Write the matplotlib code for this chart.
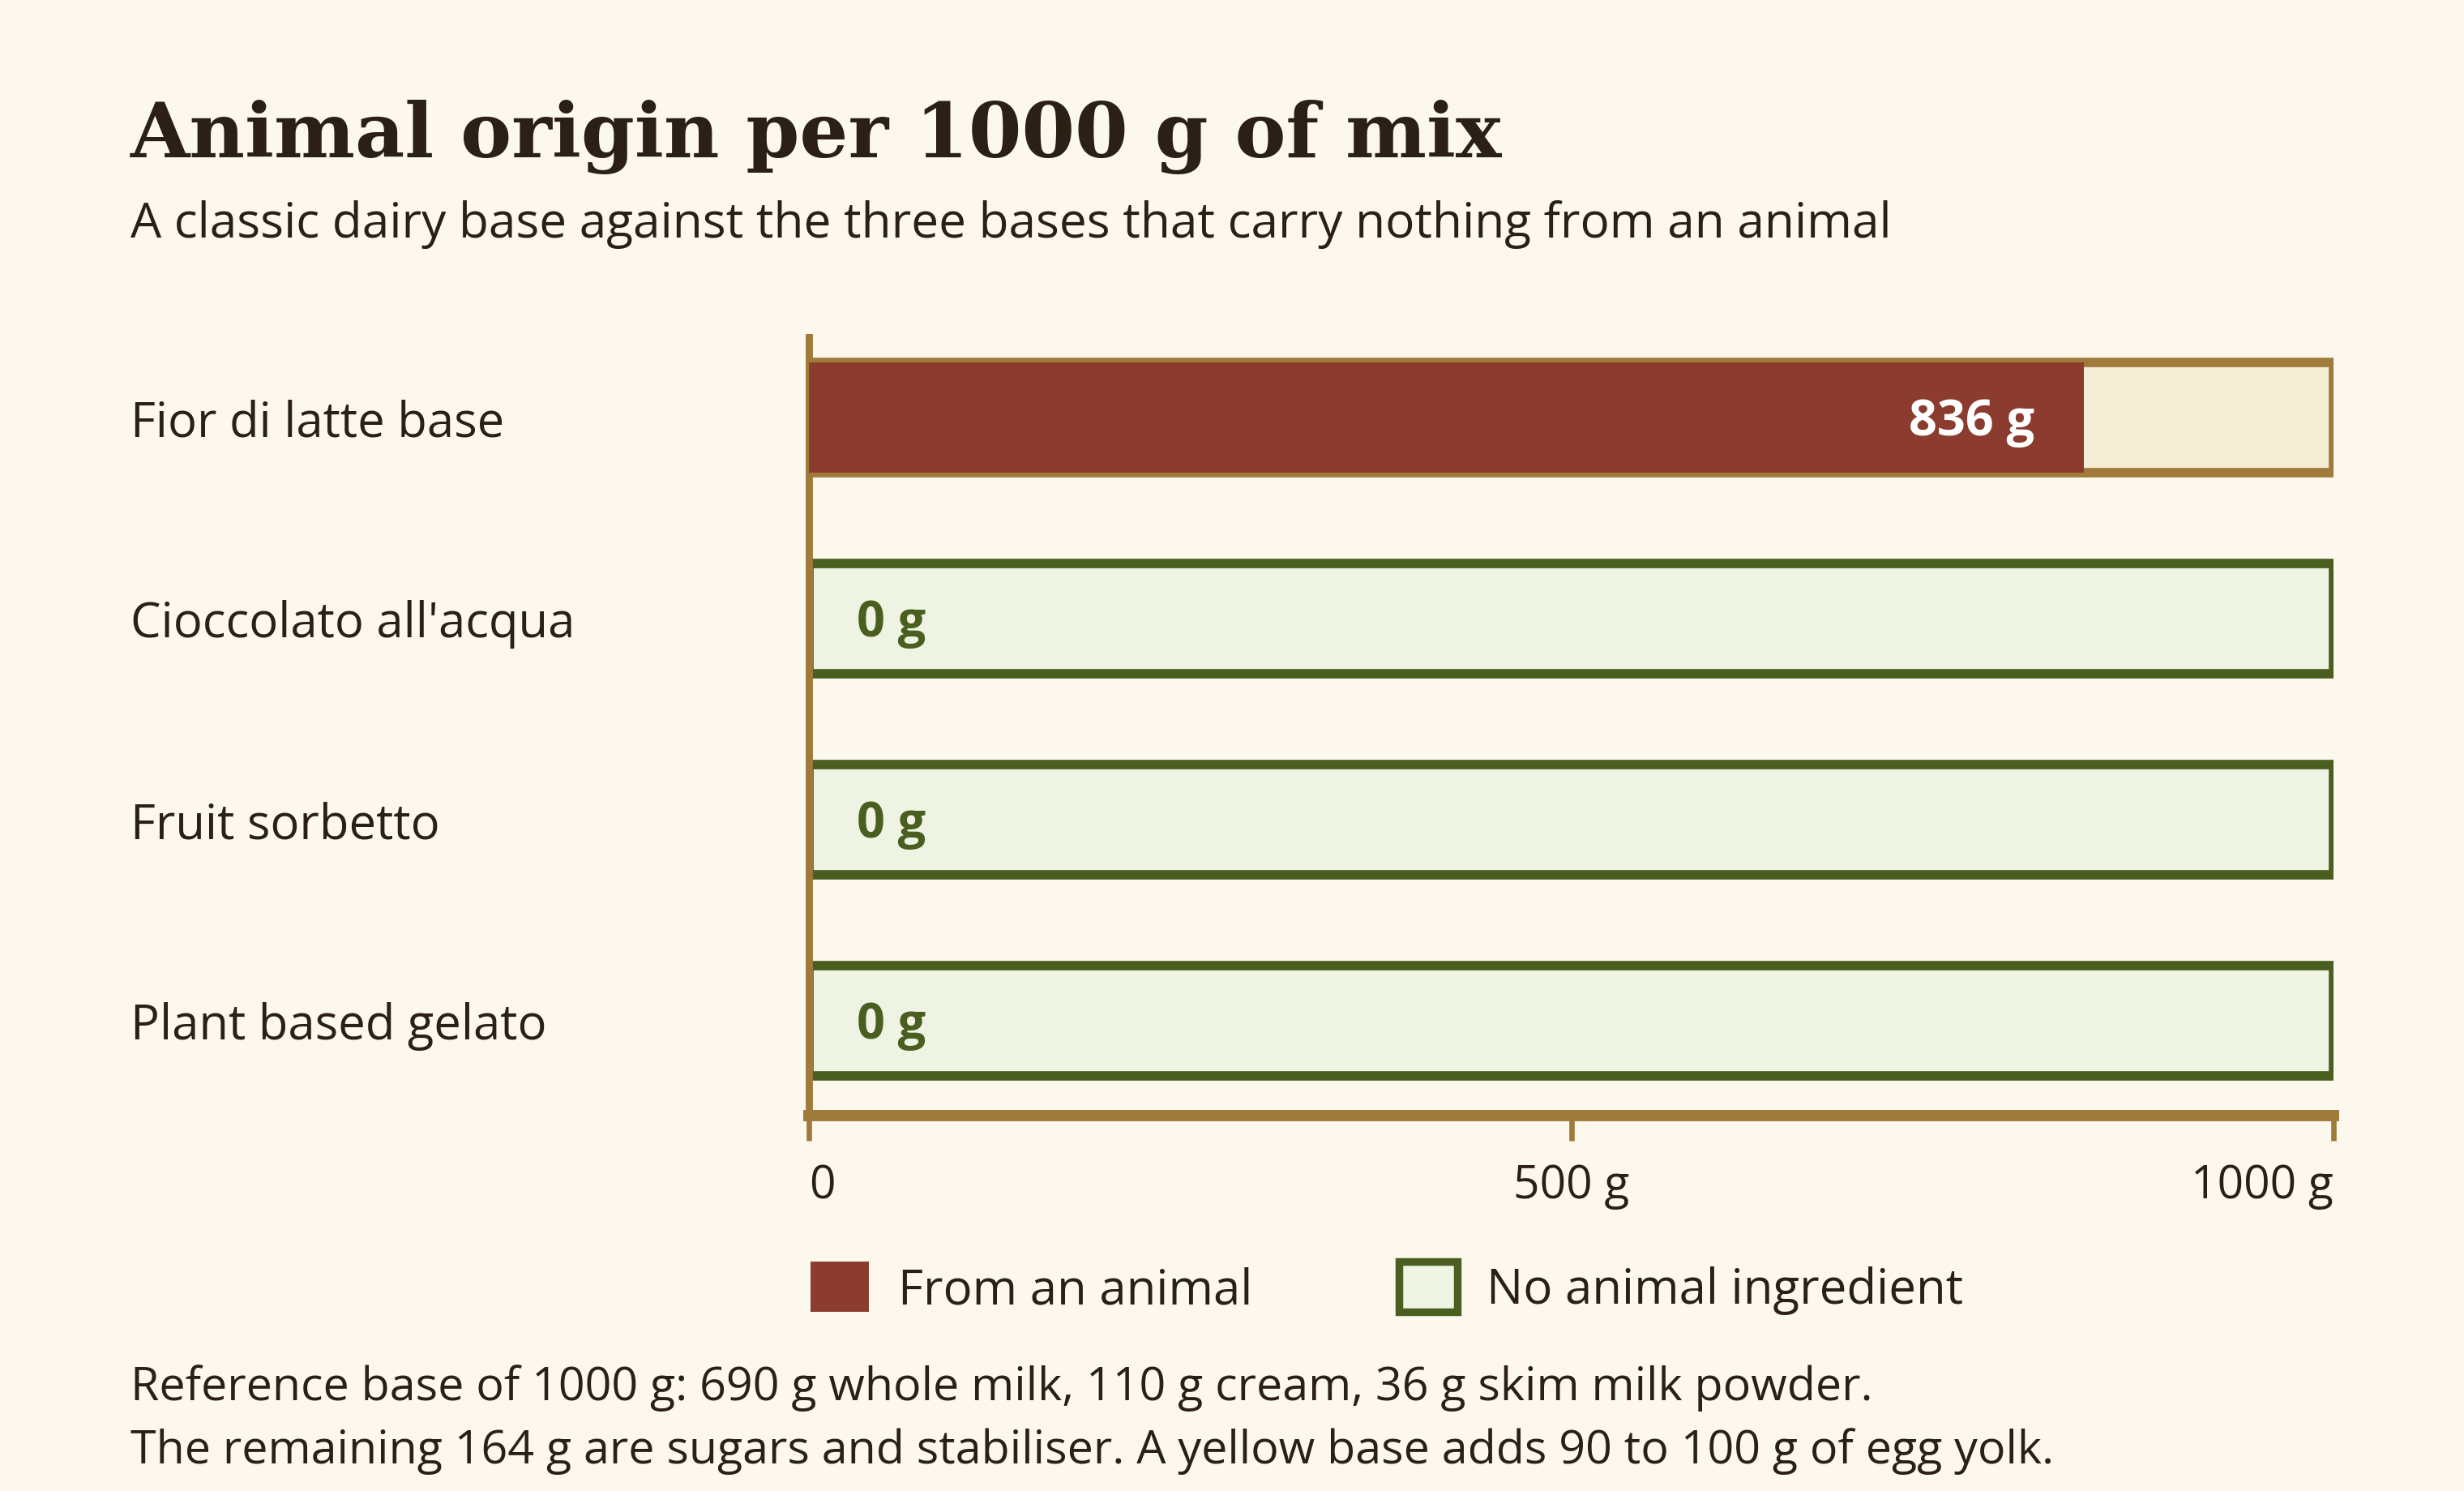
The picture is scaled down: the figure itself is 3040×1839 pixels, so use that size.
import matplotlib.pyplot as plt
import matplotlib.transforms as mtransforms
from matplotlib.patches import Patch

# data
bases = ['Fior di latte base', "Cioccolato all'acqua", 'Fruit sorbetto', 'Plant based gelato']
animal_g = [836, 0, 0, 0]
total_g = [1000, 1000, 1000, 1000]
tick_vals = [0, 500, 1000]
tick_labels = ['0', '500 g', '1000 g']

# colours
bg = '#FDF8EE'
ink = '#2B2015'
red = '#8B3C2F'
cream = '#F5ECD6'
tan = '#A07A3A'
green = '#4A5E1F'
green_fill = '#EFF3E4'

plt.rcParams['font.family'] = ['Open Sans', 'DejaVu Sans']

fig = plt.figure(figsize=(15.2, 9.2), dpi=200, facecolor=bg)
ax = fig.add_axes([0.3284, 0.2518, 0.6187, 0.5216])
ax.set_facecolor(bg)

ypos = range(len(bases))
bar_h = 0.55
for y, a, t in zip(ypos, animal_g, total_g):
    if a > 0:
        ax.barh(y, t, height=bar_h, color=cream, edgecolor=tan, linewidth=4.2, zorder=2)
        ax.barh(y, a, height=bar_h, color=red, linewidth=0, zorder=3)
        ax.text(a - 32, y + 0.02, f'{a} g', ha='right', va='center', color='white',
                fontsize=22, fontweight='bold', zorder=4)
    else:
        ax.barh(y, t, height=bar_h, color=green_fill, edgecolor=green, linewidth=4.2, zorder=2)
        ax.text(31, y + 0.02, f'{a} g', ha='left', va='center', color=green,
                fontsize=22, fontweight='bold', zorder=4)

ax.set_xlim(0, 1000)
ax.set_ylim(3.47, -0.4)
ax.set_yticks([])
ax.set_xticks(tick_vals)
ax.set_xticklabels(tick_labels, fontsize=20.5, color=ink)
for lab, ha in zip(ax.get_xticklabels(), ['left', 'center', 'right']):
    lab.set_ha(ha)
ax.tick_params(axis='x', length=11, width=2.4, color=tan, pad=10)

for s in ['top', 'right']:
    ax.spines[s].set_visible(False)
ax.spines['left'].set_color(tan)
ax.spines['left'].set_linewidth(3.2)
ax.spines['bottom'].set_color(tan)
ax.spines['bottom'].set_linewidth(5)

# category labels
trans = mtransforms.blended_transform_factory(fig.transFigure, ax.transData)
for y, name in zip(ypos, bases):
    ax.text(0.0529, y + 0.025, name, transform=trans, ha='left', va='center',
            fontsize=21.5, color=ink)

# titles
fig.text(0.0529, 0.8946, 'Animal origin per 1000 g of mix', fontsize=34,
         fontweight='bold', family='DejaVu Serif', color=ink, va='baseline')
fig.text(0.0529, 1 - 143 / 949,
         'A classic dairy base against the three bases that carry nothing from an animal',
         fontsize=21.75, color=ink, va='center')

# legend
handles = [Patch(facecolor=red, edgecolor=red, linewidth=0),
           Patch(facecolor=green_fill, edgecolor=green, linewidth=3.4)]
fig.legend(handles, ['From an animal', 'No animal ingredient'], loc='center left',
           bbox_to_anchor=(0.3290, 1 - 820 / 949), ncol=2, frameon=False,
           fontsize=21.6, handlelength=1.2, handleheight=1.2, handletextpad=0.6,
           columnspacing=3.0, borderpad=0, borderaxespad=0, labelcolor=ink)

# footnote
fig.text(0.0529, 1 - 883 / 949,
         'Reference base of 1000 g: 690 g whole milk, 110 g cream, 36 g skim milk powder.',
         fontsize=20.65, color=ink, va='center')
fig.text(0.0529, 1 - 923 / 949,
         'The remaining 164 g are sugars and stabiliser. A yellow base adds 90 to 100 g of egg yolk.',
         fontsize=20.65, color=ink, va='center')

fig.savefig('out.png', dpi=200, facecolor=bg)
